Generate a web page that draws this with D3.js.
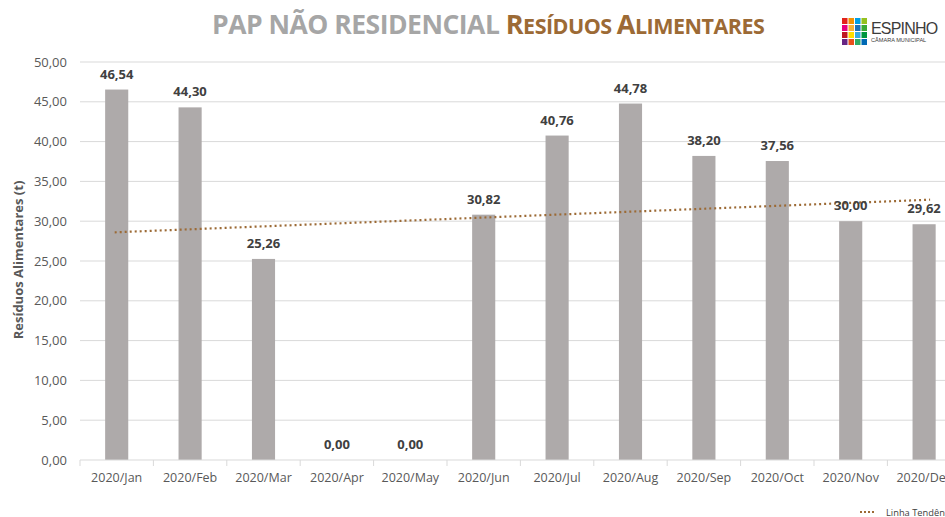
<!DOCTYPE html>
<html>
<head>
<meta charset="utf-8" />
<title>PAP Não Residencial - Resíduos Alimentares</title>
<script src="https://cdn.jsdelivr.net/npm/d3@7"></script>
<style>
body { margin: 0; background: #fff; font-family: 'Open Sans', sans-serif; }
svg { display: block; }
</style>
</head>
<body>
<svg id="chart" width="945" height="517"></svg>
<script>
// dados
var v_Months = ["2020/Jan", "2020/Feb", "2020/Mar", "2020/Apr", "2020/May", "2020/Jun",
                "2020/Jul", "2020/Aug", "2020/Sep", "2020/Oct", "2020/Nov", "2020/Dec"];
var v_Values = [46.54, 44.30, 25.26, 0.00, 0.00, 30.82, 40.76, 44.78, 38.20, 37.56, 30.00, 29.62];
var v_YTicks = [0, 5, 10, 15, 20, 25, 30, 35, 40, 45, 50];

var v_Colors = { bar: "#aeaaaa", grid: "#d9d9d9", text: "#595959", label: "#404040",
                 trend: "#9c6a35", title: "#a6a6a6" };

var m = { left: 80, top: 62, bottom: 460, band: 73.4 };
var fmt = function(v) { return v.toFixed(2).replace(".", ","); };

var svg = d3.select("#chart");

var x = d3.scaleBand().domain(v_Months)
  .range([m.left, m.left + m.band * v_Months.length])
  .paddingInner(0.685).paddingOuter(0.3425);
var y = d3.scaleLinear().domain([0, 50]).range([m.bottom, m.top]);

// grelha
svg.append("g").selectAll("line").data(v_YTicks.slice(1)).enter().append("line")
  .attr("x1", m.left).attr("x2", 945)
  .attr("y1", function(d) { return y(d); }).attr("y2", function(d) { return y(d); })
  .attr("stroke", v_Colors.grid).attr("stroke-width", 1);

// eixo y
var yAxis = svg.append("g").attr("transform", "translate(" + (m.left - 13) + ",0)")
  .call(d3.axisLeft(y).tickValues(v_YTicks).tickFormat(fmt).tickSize(0).tickPadding(0));
yAxis.select(".domain").remove();
yAxis.selectAll("text").attr("fill", v_Colors.text).attr("font-size", "13px")
  .attr("font-family", "'Open Sans', sans-serif");

// barras
svg.append("g").selectAll("rect").data(v_Values).enter().append("rect")
  .attr("x", function(d, i) { return x(v_Months[i]); })
  .attr("width", x.bandwidth())
  .attr("y", function(d) { return y(d); })
  .attr("height", function(d) { return y(0) - y(d); })
  .attr("fill", v_Colors.bar);

// eixo x
var xAxis = svg.append("g").attr("transform", "translate(0," + m.bottom + ")")
  .call(d3.axisBottom(x).tickSize(0).tickPadding(13));
xAxis.select(".domain").attr("stroke", v_Colors.grid).attr("d", "M" + m.left + ",0H945");
xAxis.selectAll("text").attr("fill", v_Colors.text).attr("font-size", "12.5px")
  .attr("font-family", "'Open Sans', sans-serif");
xAxis.append("g").selectAll("line").data(d3.range(v_Months.length + 1)).enter().append("line")
  .attr("x1", function(i) { return m.left + i * m.band; })
  .attr("x2", function(i) { return m.left + i * m.band; })
  .attr("y1", 0).attr("y2", 6).attr("stroke", v_Colors.grid);

// linha de tendência (regressão linear dos valores)
var n = v_Values.length;
var mx = d3.mean(d3.range(n)), my = d3.mean(v_Values);
var sxy = d3.sum(v_Values, function(d, i) { return (i - mx) * (d - my); });
var sxx = d3.sum(d3.range(n), function(i) { return (i - mx) * (i - mx); });
var slope = sxy / sxx, icpt = my - slope * mx;
var cx = function(i) { return x(v_Months[i]) + x.bandwidth() / 2; };
svg.append("line")
  .attr("x1", cx(0) - 2).attr("y1", y(icpt))
  .attr("x2", cx(n - 1) + 6).attr("y2", y(icpt + slope * (n - 1)))
  .attr("stroke", v_Colors.trend).attr("stroke-width", 2.2)
  .attr("stroke-dasharray", "2,3");

// rótulos de dados
svg.append("g").selectAll("text").data(v_Values).enter().append("text")
  .attr("x", function(d, i) { return cx(i); })
  .attr("y", function(d) { return y(d) - 11; })
  .attr("text-anchor", "middle")
  .attr("font-size", "13px").attr("font-weight", "bold")
  .attr("fill", v_Colors.label)
  .text(fmt);

// título do eixo y
svg.append("text")
  .attr("transform", "translate(23,260) rotate(-90)")
  .attr("text-anchor", "middle")
  .attr("font-size", "13px").attr("font-weight", "bold")
  .attr("fill", v_Colors.text)
  .text("Resíduos Alimentares (t)");

// título
var t = svg.append("text").attr("x", 212).attr("y", 34)
  .attr("font-family", "'Open Sans', sans-serif").attr("font-weight", "bold")
  .attr("letter-spacing", "-0.5px");
t.append("tspan").attr("fill", v_Colors.title).attr("font-size", "26.5px").text("PAP NÃO RESIDENCIAL ");
var v_Small = [["R", "ESÍDUOS "], ["A", "LIMENTARES"]];
v_Small.forEach(function(p) {
  t.append("tspan").attr("fill", v_Colors.trend).attr("font-size", "27px").text(p[0]);
  t.append("tspan").attr("fill", v_Colors.trend).attr("font-size", "21.5px").text(p[1]);
});

// logótipo
var v_LogoColors = [["#e2231a", "#f39200", "#009fe3", "#95c11f"],
                    ["#e6007e", "#f9b233", "#1d71b8", "#3aaa35"],
                    ["#be1622", "#ffde00", "#36a9e1", "#00963f"],
                    ["#662483", "#e94e1b", "#2fac66", "#0069b4"]];
var logo = svg.append("g").attr("transform", "translate(842,18)");
v_LogoColors.forEach(function(row, r) {
  row.forEach(function(c, k) {
    logo.append("rect").attr("x", k * 6.5).attr("y", r * 7)
      .attr("width", 5.5).attr("height", 6).attr("fill", c);
  });
});
logo.append("text").attr("x", 29).attr("y", 16).attr("font-size", "16px")
  .attr("font-family", "'Liberation Sans', Arial, sans-serif").attr("fill", "#3c3c3b")
  .attr("letter-spacing", "-0.8px").text("ESPINHO");
logo.append("text").attr("x", 29).attr("y", 24).attr("font-size", "5.6px")
  .attr("font-family", "'Liberation Sans', Arial, sans-serif").attr("fill", "#3c3c3b")
  .text("CÂMARA MUNICIPAL");

// legenda
svg.append("line").attr("x1", 860).attr("x2", 876).attr("y1", 512).attr("y2", 512)
  .attr("stroke", v_Colors.trend).attr("stroke-width", 2).attr("stroke-dasharray", "2,2");
svg.append("text").attr("x", 886).attr("y", 516).attr("font-size", "9.3px")
  .attr("fill", "#404040").text("Linha Tendência");
</script>
</body>
</html>
